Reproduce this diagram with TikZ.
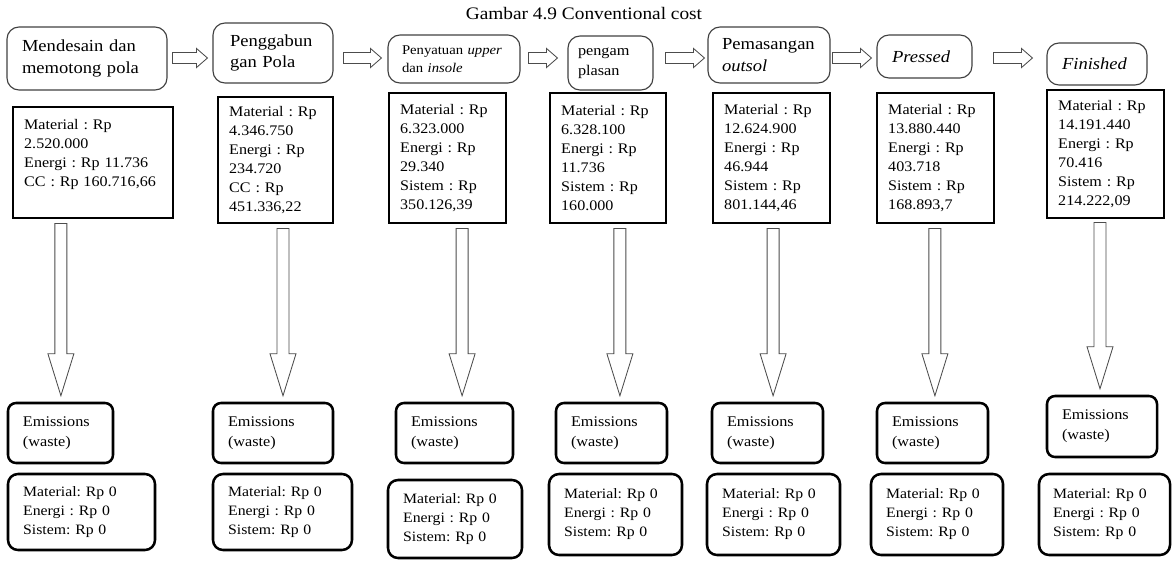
\documentclass[tikz,border=0pt]{standalone}
\usepackage{fontspec}
\setmainfont{Liberation Serif}[FakeStretch=1.1]
\usepackage{tikz}
\usetikzlibrary{positioning}
\usetikzlibrary{calc}
\hyphenpenalty=10000
\frenchspacing

\begin{document}
\begin{tikzpicture}[
		stage/.style={rectangle, rounded corners=0.3cm, draw=black!75, line width=0.8pt,
				align=left, inner xsep=0.375cm, font=\fontsize{12}{16}\selectfont},
		cost/.style={rectangle, draw, line width=0.8pt, align=left, inner xsep=0.28cm,
				font=\fontsize{10.4}{13.5}\selectfont},
		waste/.style={rectangle, rounded corners=0.2cm, draw, line width=1.8pt,
				align=left, inner xsep=0.375cm, font=\fontsize{10.5}{14}\selectfont},
		zero/.style={rectangle, rounded corners=0.25cm, draw, line width=1.8pt,
				align=left, inner xsep=0.38cm, font=\fontsize{10.2}{13.5}\selectfont},
		fatright/.style={draw=black!70, line width=0.6pt, fill=white, to path={
				let \p1=(\tikztostart), \p2=(\tikztotarget) in
				(\x1,\y1+0.1375cm) -- (\x2-0.275cm,\y1+0.1375cm) -- (\x2-0.275cm,\y1+0.24cm)
				-- (\x2,\y1) -- (\x2-0.275cm,\y1-0.24cm) -- (\x2-0.275cm,\y1-0.1375cm)
				-- (\x1,\y1-0.1375cm) -- cycle}},
		fatdown/.style={draw=black!70, line width=0.6pt, fill=white, to path={
				let \p1=(\tikztostart), \p2=(\tikztotarget) in
				(\x1-0.15cm,\y1) -- (\x1-0.15cm,\y2+1.05cm) -- (\x1-0.325cm,\y2+1.05cm)
				-- (\x1,\y2) -- (\x1+0.325cm,\y2+1.05cm) -- (\x1+0.15cm,\y2+1.05cm)
				-- (\x1+0.15cm,\y1) -- cycle}}
	]

	\useasboundingbox (0,0) rectangle (29.3,-14);

	% Title
	\node[font=\fontsize{12.5}{15}\selectfont] (title) at (14.6,-0.35) {Gambar 4.9 Conventional cost};

	% Process stages
	\node[stage, minimum width=4cm, minimum height=1.575cm, text width=3.25cm] (s1) at (2.175,-1.4625) {Mendesain dan\\memotong pola};
	\node[stage, minimum width=3cm, minimum height=1.5cm, inner xsep=0.425cm, text width=2.15cm,
		font=\fontsize{12}{15}\selectfont] (s2) at (6.825,-1.325) {Penggabun\\gan Pola};
	\node[stage, minimum width=3.3cm, minimum height=1.2cm, inner xsep=0.35cm, text width=2.6cm,
		font=\fontsize{9.5}{12.5}\selectfont] (s3) at (11.35,-1.475) {Penyatuan \textit{upper}\\dan \textit{insole}};
	\node[stage, minimum width=2.125cm, minimum height=1.35cm, inner xsep=0.25cm, text width=1.625cm,
		font=\fontsize{10.5}{14}\selectfont] (s4) at (15.2625,-1.575) {pengam\\plasan};
	\node[stage, minimum width=3.05cm, minimum height=1.4cm, inner xsep=0.35cm, text width=2.35cm] (s5) at (19.225,-1.375) {Pemasangan\\\textit{outsol}};
	\node[stage, minimum width=2.375cm, minimum height=1.075cm, text width=1.625cm] (s6) at (23.1125,-1.4125) {\textit{Pressed}};
	\node[stage, minimum width=2.5cm, minimum height=1.05cm, text width=1.75cm] (s7) at (27.425,-1.6) {\textit{Finished}};

	% Cost boxes
	\node[cost, minimum width=4cm, minimum height=2.775cm, text width=3.44cm] (c1) at (2.325,-4.0625) {Material : Rp\\2.520.000\\Energi : Rp 11.736\\CC : Rp 160.716,66\\\mbox{}};
	\node[cost, minimum width=2.875cm, minimum height=3.15cm, text width=2.315cm] (c2) at (6.8875,-4.0) {Material : Rp\\4.346.750\\Energi : Rp\\234.720\\CC : Rp\\451.336,22};
	\node[cost, minimum width=2.925cm, minimum height=3.25cm, text width=2.365cm] (c3) at (11.1875,-3.95) {Material : Rp\\6.323.000\\Energi : Rp\\29.340\\Sistem : Rp\\350.126,39};
	\node[cost, minimum width=2.9cm, minimum height=3.25cm, text width=2.34cm] (c4) at (15.2,-3.95) {Material : Rp\\6.328.100\\Energi : Rp\\11.736\\Sistem : Rp\\160.000};
	\node[cost, minimum width=2.925cm, minimum height=3.25cm, text width=2.365cm] (c5) at (19.2875,-3.95) {Material : Rp\\12.624.900\\Energi : Rp\\46.944\\Sistem : Rp\\801.144,46};
	\node[cost, minimum width=2.925cm, minimum height=3.25cm, text width=2.365cm] (c6) at (23.3875,-3.95) {Material : Rp\\13.880.440\\Energi : Rp\\403.718\\Sistem : Rp\\168.893,7};
	\node[cost, minimum width=2.925cm, minimum height=3.2cm, text width=2.365cm] (c7) at (27.6375,-3.85) {Material : Rp\\14.191.440\\Energi : Rp\\70.416\\Sistem : Rp\\214.222,09};

	% Emissions boxes
	\node[waste, minimum width=2.625cm, minimum height=1.5cm, text width=1.875cm] (e1) at (1.5125,-10.825) {Emissions\\(waste)};
	\node[waste, minimum width=3cm, minimum height=1.5cm, text width=2.25cm] (e2) at (6.825,-10.825) {Emissions\\(waste)};
	\node[waste, minimum width=2.925cm, minimum height=1.5cm, text width=2.175cm] (e3) at (11.3625,-10.825) {Emissions\\(waste)};
	\node[waste, minimum width=2.775cm, minimum height=1.5cm, text width=2.025cm] (e4) at (15.2875,-10.825) {Emissions\\(waste)};
	\node[waste, minimum width=2.775cm, minimum height=1.5cm, text width=2.025cm] (e5) at (19.1875,-10.825) {Emissions\\(waste)};
	\node[waste, minimum width=2.775cm, minimum height=1.5cm, text width=2.025cm] (e6) at (23.3125,-10.825) {Emissions\\(waste)};
	\node[waste, minimum width=2.75cm, minimum height=1.525cm, text width=2cm] (e7) at (27.55,-10.6625) {Emissions\\(waste)};

	% Zero boxes
	\node[zero, minimum width=3.675cm, minimum height=1.9cm, text width=2.915cm] (z1) at (2.0375,-12.8) {Material: Rp 0\\Energi : Rp 0\\Sistem: Rp 0};
	\node[zero, minimum width=3.475cm, minimum height=1.9cm, text width=2.715cm] (z2) at (7.0625,-12.8) {Material: Rp 0\\Energi : Rp 0\\Sistem: Rp 0};
	\node[zero, minimum width=3.35cm, minimum height=1.95cm, text width=2.59cm] (z3) at (11.375,-12.975) {Material: Rp 0\\Energi : Rp 0\\Sistem: Rp 0};
	\node[zero, minimum width=3.325cm, minimum height=2.025cm, text width=2.565cm] (z4) at (15.3875,-12.8625) {Material: Rp 0\\Energi : Rp 0\\Sistem: Rp 0};
	\node[zero, minimum width=3.325cm, minimum height=2.025cm, text width=2.565cm] (z5) at (19.3375,-12.8625) {Material: Rp 0\\Energi : Rp 0\\Sistem: Rp 0};
	\node[zero, minimum width=3.3cm, minimum height=2.025cm, text width=2.54cm] (z6) at (23.425,-12.8625) {Material: Rp 0\\Energi : Rp 0\\Sistem: Rp 0};
	\node[zero, minimum width=3.275cm, minimum height=2.025cm, inner xsep=0.35cm, text width=2.575cm] (z7) at (27.6125,-12.8625) {Material: Rp 0\\Energi : Rp 0\\Sistem: Rp 0};

	% Arrows between stages
	\coordinate (row) at (0,-1.45);
	\draw[fatright] ($(s1.east |- row)+(0.125,0)$) to ($(s2.west |- row)+(-0.125,0)$);
	\draw[fatright] ($(s2.east |- row)+(0.25,0)$) to ($(s3.west |- row)+(-0.15,0)$);
	\draw[fatright] ($(s3.east |- row)+(0.2,0)$) to ($(s4.west |- row)+(-0.25,0)$);
	\draw[fatright] ($(s4.east |- row)+(0.3,0)$) to ($(s5.west |- row)+(-0.075,0)$);
	\draw[fatright] ($(s5.east |- row)+(0.05,0)$) to ($(s6.west |- row)+(-0.125,0)$);
	\draw[fatright] ($(s6.east |- row)+(0.525,0)$) to ($(s7.west |- row)+(-0.35,0)$);

	% Arrows down to emissions
	\draw[fatdown] ($(c1.south -| e1.north)+(0.01,-0.125)$) to ($(e1.north)+(0,0.15)$);
	\draw[fatdown] ($(c2.south -| e2.north)+(0.25,-0.125)$) to ($(e2.north)+(0,0.15)$);
	\draw[fatdown] ($(c3.south -| e3.north)+(0.19,-0.125)$) to ($(e3.north)+(0,0.15)$);
	\draw[fatdown] ($(c4.south -| e4.north)+(0.21,-0.125)$) to ($(e4.north)+(0,0.15)$);
	\draw[fatdown] ($(c5.south -| e5.north)+(0.14,-0.125)$) to ($(e5.north)+(0,0.15)$);
	\draw[fatdown] ($(c6.south -| e6.north)+(0.06,-0.125)$) to ($(e6.north)+(0,0.15)$);
	\draw[fatdown] ($(c7.south -| e7.north)+(-0.05,-0.1)$) to ($(e7.north)+(0,0.15)$);

\end{tikzpicture}
\end{document}
